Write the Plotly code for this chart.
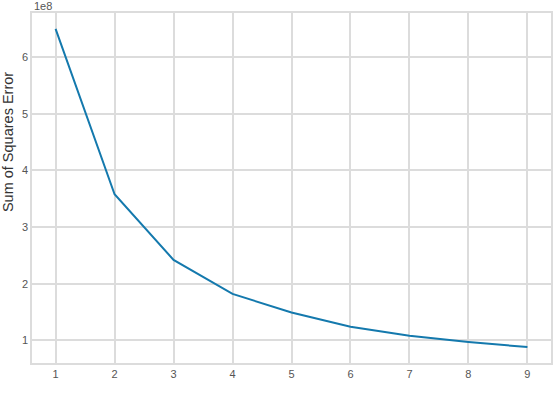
import plotly.graph_objects as go

k_values = [1, 2, 3, 4, 5, 6, 7, 8, 9]
sse = [6.50e8, 3.58e8, 2.42e8, 1.82e8, 1.49e8, 1.24e8, 1.08e8, 0.97e8, 0.88e8]
y_ticks = [1e8, 2e8, 3e8, 4e8, 5e8, 6e8]
y_tick_labels = ["1", "2", "3", "4", "5", "6"]
x_ticks = [1, 2, 3, 4, 5, 6, 7, 8, 9]

W, H = 558, 395
ML, MR, MT, MB = 32, 5, 13, 32
grid = "#dcdcdc"
txt = "#555555"

ymin, ymax = min(sse), max(sse)
pad = 0.05 * (ymax - ymin)
xpad = 0.05 * (max(k_values) - min(k_values))

fig = go.Figure()
fig.add_trace(go.Scatter(x=k_values, y=sse, mode="lines",
                         line=dict(color="#1479ad", width=2)))

fig.update_layout(
    width=W, height=H,
    margin=dict(l=ML, r=MR, t=MT, b=MB),
    paper_bgcolor="white", plot_bgcolor="white",
    showlegend=False,
    font=dict(family="Liberation Sans, Arial, sans-serif", size=11, color=txt),
    xaxis=dict(range=[min(k_values) - xpad, max(k_values) + xpad],
               tickvals=x_ticks, showgrid=True, gridcolor=grid, gridwidth=1.5,
               showline=True, linecolor=grid, linewidth=1.5, mirror=True,
               zeroline=False, ticks="", ticklen=0, tickfont=dict(size=11, color=txt)),
    yaxis=dict(range=[ymin - pad, ymax + pad],
               tickvals=y_ticks, ticktext=y_tick_labels,
               showgrid=True, gridcolor=grid, gridwidth=1.5,
               showline=True, linecolor=grid, linewidth=1.5, mirror=True,
               zeroline=False, ticks="", tickfont=dict(size=11, color=txt)),
    annotations=[
        dict(text="1e8", xref="paper", yref="paper", x=0, y=1, xanchor="left",
             yanchor="bottom", yshift=-1, showarrow=False, font=dict(size=11, color=txt)),
        dict(text="Sum of Squares Error", xref="paper", yref="paper",
             x=-(ML - 8) / (W - ML - MR), y=(H - MB - 142) / (H - MT - MB),
             xanchor="center", yanchor="middle",
             textangle=-90, showarrow=False, font=dict(size=14.5, color="#333333")),
    ],
)

fig.write_html("out.html")
